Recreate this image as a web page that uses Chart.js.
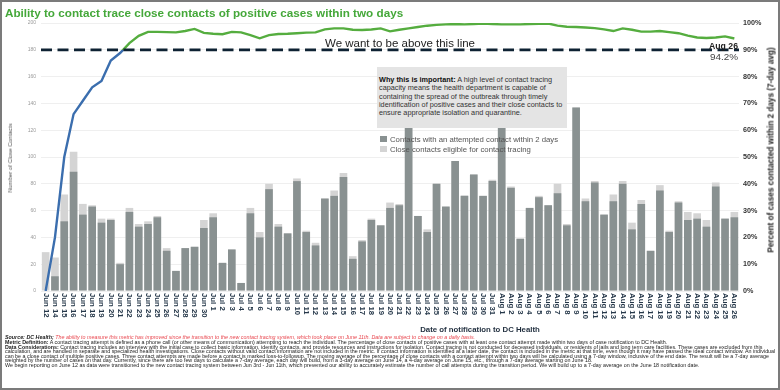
<!DOCTYPE html>
<html>
<head>
<meta charset="utf-8">
<title>Contact tracing within two days</title>
<script src="https://cdn.jsdelivr.net/npm/chart.js@4.4.1/dist/chart.umd.min.js"></script>
<style>
  html, body { margin: 0; padding: 0; background: #fff; }
  #page { position: relative; width: 780px; height: 390px; overflow: hidden; font-family: Arial, 'Liberation Sans', sans-serif; }
  #page .frame { position: absolute; left: 0; top: 0; width: 780px; height: 390px; box-sizing: border-box; border: 2px solid #7b7b7b; pointer-events: none; }
  #chart { position: absolute; left: 0; top: 0; }
  .txt { position: absolute; white-space: nowrap; }
  #title { left: 5px; top: 4px; font-size: 11.7px; line-height: 18px; font-weight: bold; color: #45a83a; }
  #target { left: 325px; top: 36px; font-size: 11.5px; line-height: 14px; color: #222; }
  #lastDate { right: 42px; top: 40px; font-size: 8.7px; line-height: 12px; font-weight: bold; color: #222; text-align: right; }
  #lastValue { right: 42px; top: 51px; font-size: 9.9px; line-height: 12px; color: #444; text-align: right; }
  #why { left: 377px; top: 67px; width: 190px; height: 61px; background: #e4e4e4; box-sizing: border-box; padding: 9px 0 0 2px; font-size: 7.3px; line-height: 8.3px; color: #333; }
  #why b { color: #111; }
  #legend { left: 380px; top: 134.5px; font-size: 7.75px; line-height: 10px; color: #555; }
  .sw { display: inline-block; width: 6.5px; height: 6.5px; margin-right: 3.5px; vertical-align: -0.5px; }
  #yTitle { left: 10px; top: 157.5px; font-size: 5.9px; color: #555; transform: translate(-50%, -50%) rotate(-90deg); }
  #y2Title { left: 770.5px; top: 150px; font-size: 8.2px; font-weight: bold; color: #222; transform: translate(-50%, -50%) rotate(-90deg); }
  #xTitle { left: 480px; top: 329px; font-size: 7.8px; font-weight: bold; color: #1f2d3d; transform: translate(-50%, -50%); }
  .note { left: 5px; font-size: 5.35px; line-height: 5px; color: #222; }
  .note .red { color: #e8464e; font-style: italic; }
</style>
</head>
<body>
<div id="page">
  <canvas id="chart" width="780" height="330"></canvas>
  <div class="txt" id="title">Ability to contact trace close contacts of positive cases within two days</div>
  <div class="txt" id="target">We want to be above this line</div>
  <div class="txt" id="lastDate">Aug 26</div>
  <div class="txt" id="lastValue">94.2%</div>
  <div class="txt" id="why"><b>Why this is important:</b> A high level of contact tracing<br>capacity means the health department is capable of<br>containing the spread of the outbreak through timely<br>identification of positive cases and their close contacts to<br>ensure appropriate isolation and quarantine.</div>
  <div class="txt" id="legend">
    <div><span class="sw" style="background:#899191"></span>Contacts with an attempted contact within 2 days</div>
    <div><span class="sw" style="background:#d4d4d4"></span>Close contacts eligible for contact tracing</div>
  </div>
  <div class="txt" id="yTitle">Number of Close Contacts</div>
  <div class="txt" id="y2Title">Percent of cases contacted within 2 days (7-day avg)</div>
  <div class="txt" id="xTitle">Date of notification to DC Health</div>
  <div class="txt note" style="top:335px"><b><i>Source: DC Health;</i></b> <span class="red">The ability to measure this metric has improved since the transition to the new contact tracing system, which took place on June 11th. Data are subject to change on a daily basis.</span></div>
  <div class="txt note" style="top:340px"><b>Metric Definition:</b> A contact tracing attempt is defined as a phone call (or other means of communication) attempting to reach the individual. The percentage of close contacts of positive cases with at least one contact attempt made within two days of case notification to DC Health.</div>
  <div class="txt note" style="top:344.5px"><b>Data Considerations:</b> Contact tracing includes an interview with the initial case to collect basic information, identify contacts, and provide resources and instructions for isolation. Contact tracing is not conducted for deceased individuals, or residents of jails and long term care facilities. These cases are excluded from this</div>
  <div class="txt note" style="top:349px">calculation, and are handled in separate and specialized health investigations. Close contacts without valid contact information are not included in the metric. If contact information is identified at a later date, the contact is included in the metric at that time, even though it may have passed the ideal contact window. An individual</div>
  <div class="txt note" style="top:353.5px">can be a close contact of multiple positive cases. Three contact attempts are made before a contact is marked loss-to-followup. The moving average of the percentage of close contacts with a contact attempt within two days will be calculated using a 7-day window, inclusive of the end date. The result will be a 7-day average</div>
  <div class="txt note" style="top:358px">weighted by the number of cases on that day. Currently, since there are too few days to calculate a 7-day average, each day will build, from a 3-day average on June 14, a 4-day average on June 15, etc., through a 7-day average starting on June 18.</div>
  <div class="txt note" style="top:362.5px">We begin reporting on June 12 as data were transitioned to the new contact tracing system between Jun 3rd - Jun 11th, which prevented our ability to accurately estimate the number of call attempts during the transition period. We will build up to a 7-day average on the June 18 notification date.</div>
  <div class="frame"></div>
</div>
<script>
const dates = [
  'Jun 12', 'Jun 14', 'Jun 15', 'Jun 16', 'Jun 17', 'Jun 18', 'Jun 19', 'Jun 20', 'Jun 21', 'Jun 22',
  'Jun 23', 'Jun 24', 'Jun 25', 'Jun 26', 'Jun 27', 'Jun 28', 'Jun 29', 'Jun 30',
  'Jul 1', 'Jul 2', 'Jul 3', 'Jul 4', 'Jul 5', 'Jul 6', 'Jul 7', 'Jul 8', 'Jul 9', 'Jul 10',
  'Jul 11', 'Jul 12', 'Jul 13', 'Jul 14', 'Jul 15', 'Jul 16', 'Jul 17', 'Jul 18', 'Jul 19', 'Jul 20',
  'Jul 21', 'Jul 22', 'Jul 23', 'Jul 24', 'Jul 25', 'Jul 26', 'Jul 27', 'Jul 28', 'Jul 29', 'Jul 30', 'Jul 31',
  'Aug 1', 'Aug 2', 'Aug 3', 'Aug 4', 'Aug 5', 'Aug 6', 'Aug 7', 'Aug 8', 'Aug 9', 'Aug 10',
  'Aug 11', 'Aug 12', 'Aug 13', 'Aug 14', 'Aug 15', 'Aug 16', 'Aug 17', 'Aug 18', 'Aug 19', 'Aug 20',
  'Aug 21', 'Aug 22', 'Aug 23', 'Aug 24', 'Aug 25', 'Aug 26'
]

// contacts with an attempted contact within 2 days
const attempted = [
  0, 11, 52, 89, 57, 63, 51, 53, 20, 59,
  48, 50, 55, 30, 15, 32, 33, 47,
  55, 21, 31, 6, 58, 40, 76, 48, 43, 82,
  44, 34, 69, 71, 85, 24, 37, 53, 49, 62,
  64, 150, 56, 44, 80, 63, 97, 71, 87, 71, 82,
  140, 77, 39, 62, 70, 64, 73, 49, 137, 67,
  81, 57, 67, 80, 46, 65, 30, 75, 44, 66,
  53, 54, 48, 78, 54, 55
]

// close contacts eligible for contact tracing
const eligible = [
  29, 25, 72, 104, 65, 64, 54, 54, 21, 62,
  50, 52, 56, 32, 15, 32, 33, 53,
  58, 21, 31, 6, 62, 44, 80, 50, 43, 84,
  45, 36, 69, 75, 88, 26, 38, 54, 49, 66,
  65, 150, 56, 46, 80, 63, 97, 71, 87, 71, 83,
  140, 78, 39, 62, 71, 64, 80, 50, 137, 69,
  82, 57, 72, 82, 51, 68, 30, 79, 45, 67,
  59, 58, 53, 81, 54, 59
]

// percent contacted within 2 days, 7-day avg
const pctContacted = [
  0, 20, 50, 66, 71, 76, 78.4, 86, 88.8, 92.5,
  95.2, 96.7, 96.7, 96.6, 96.5, 97.0, 97.8, 96.3,
  96.0, 95.8, 96.7, 96.5, 95.5, 94.3, 95.5, 95.9, 96.0, 96.2,
  96.4, 96.5, 97.6, 98.0, 98.0, 97.5, 97.4, 97.6, 98.0, 96.9,
  97.5, 98.0, 98.5, 99.0, 99.3, 99.5, 99.6, 99.5, 99.6, 99.8, 99.6,
  99.5, 99.5, 99.5, 99.6, 99.7, 99.8, 99.0, 98.6, 98.5, 98.3,
  98.1, 97.6, 97.0, 98.0, 97.5, 96.8, 96.8, 97.0, 96.6, 96.2,
  95.3, 94.6, 94.4, 94.6, 95.0, 94.2
]

const countTicks = [0, 20, 40, 60, 80, 100, 120, 140, 160, 180, 200]
const pctTicks = [0, 10, 20, 30, 40, 50, 60, 70, 80, 90, 100]
const targetPct = 90

const blue = '#3b6eae'
const green = '#55ad3f'

const lineColor = (context) => {
  const { ctx, chartArea, scales } = context.chart
  if (!chartArea) return green
  const cut = scales.yPct.getPixelForValue(targetPct)
  const stop = Math.min(Math.max((cut - chartArea.top) / (chartArea.bottom - chartArea.top), 0), 1)
  const g = ctx.createLinearGradient(0, chartArea.top, 0, chartArea.bottom)
  g.addColorStop(0, green)
  g.addColorStop(stop, green)
  g.addColorStop(stop, blue)
  g.addColorStop(1, blue)
  return g
}

const overlayPlugin = {
  id: 'overlay',
  afterDatasetsDraw(chart) {
    const { ctx, chartArea, scales } = chart
    const y = scales.yPct.getPixelForValue(targetPct)
    ctx.save()
    ctx.strokeStyle = '#0e2233'
    ctx.lineWidth = 2.7
    ctx.setLineDash([11, 5.5])
    ctx.beginPath()
    ctx.moveTo(chartArea.left, y)
    ctx.lineTo(chartArea.right, y)
    ctx.stroke()
    ctx.restore()
  },
  afterDraw(chart) {
    const { ctx, chartArea, scales } = chart
    ctx.save()
    ctx.font = 'bold 7.8px Arial, "Liberation Sans", sans-serif'
    ctx.fillStyle = '#26384a'
    ctx.textAlign = 'left'
    ctx.textBaseline = 'middle'
    dates.forEach((d, i) => {
      ctx.save()
      ctx.translate(scales.x.getPixelForValue(i), chartArea.bottom + 2)
      ctx.rotate(Math.PI / 2)
      ctx.fillText(d, 0, 0)
      ctx.restore()
    })
    ctx.restore()
  }
}

new Chart(document.getElementById('chart'), {
  type: 'bar',
  data: {
    labels: dates,
    datasets: [
      {
        type: 'line',
        label: 'Percent of cases contacted within 2 days (7-day avg)',
        data: pctContacted,
        yAxisID: 'yPct',
        borderColor: lineColor,
        borderWidth: 2.4,
        pointRadius: 0,
        tension: 0,
        fill: false
      },
      {
        label: 'Contacts with an attempted contact within 2 days',
        data: attempted,
        yAxisID: 'y',
        backgroundColor: '#899191',
        categoryPercentage: 1,
        barPercentage: 0.82
      },
      {
        label: 'Close contacts eligible for contact tracing',
        data: eligible,
        yAxisID: 'y',
        backgroundColor: '#d4d4d4',
        categoryPercentage: 1,
        barPercentage: 0.82
      }
    ]
  },
  options: {
    responsive: false,
    animation: false,
    events: [],
    layout: { padding: { top: 23, bottom: 0, left: 0, right: 0 } },
    plugins: {
      legend: { display: false },
      tooltip: { enabled: false }
    },
    scales: {
      x: {
        stacked: true,
        offset: true,
        grid: { display: false, drawTicks: false },
        border: { display: false },
        ticks: { display: false },
        afterFit: (s) => { s.height = 39 }
      },
      y: {
        position: 'left',
        min: 0,
        max: 200,
        afterBuildTicks: (s) => { s.ticks = countTicks.map(v => ({ value: v })) },
        ticks: { font: { size: 5, family: 'Arial' }, color: '#9a9a9a', padding: 5 },
        grid: { color: '#efefef', drawTicks: false },
        border: { display: false },
        afterFit: (s) => { s.width = 41 }
      },
      yPct: {
        position: 'right',
        min: 0,
        max: 100,
        afterBuildTicks: (s) => { s.ticks = pctTicks.map(v => ({ value: v })) },
        ticks: {
          callback: (v) => v + '%',
          font: { size: 7.2, weight: 'bold', family: 'Arial' },
          color: '#333',
          padding: 4
        },
        grid: { display: false, drawTicks: false },
        border: { display: false },
        afterFit: (s) => { s.width = 41 }
      }
    }
  },
  plugins: [overlayPlugin]
})
</script>
</body>
</html>
